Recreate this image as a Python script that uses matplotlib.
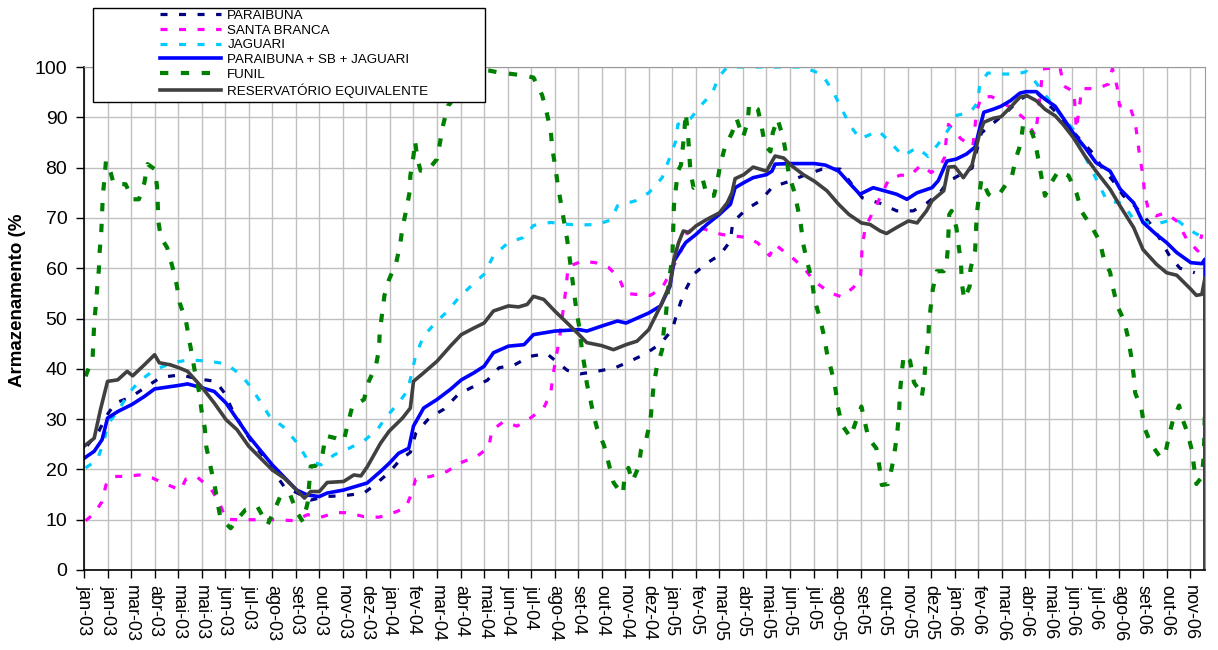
import numpy as np
import matplotlib
matplotlib.use("Agg")
import matplotlib.pyplot as plt
from matplotlib.patches import Rectangle

plt.rcParams['font.family'] = ['Liberation Sans', 'DejaVu Sans']

# ---------------- data (x = days since 01-jan-2003, y = % storage) ----------------
tick_labels = ["jan-03", "jan-03", "mar-03", "abr-03", "mai-03", "mai-03", "jun-03", "jul-03",
               "ago-03", "set-03", "out-03", "nov-03", "dez-03",
               "jan-04", "fev-04", "mar-04", "abr-04", "mai-04", "jun-04", "jul-04", "ago-04",
               "set-04", "out-04", "nov-04", "dez-04",
               "jan-05", "fev-05", "mar-05", "abr-05", "mai-05", "jun-05", "jul-05", "ago-05",
               "set-05", "out-05", "nov-05", "dez-05",
               "jan-06", "fev-06", "mar-06", "abr-06", "mai-06", "jun-06", "jul-06", "ago-06",
               "set-06", "out-06", "nov-06"]
tick_step_days = 30
x_end_days = 1429

paraibuna_d = [4, 19, 28, 40, 60, 79, 98, 123, 145, 168, 179, 190, 212, 227, 255, 272, 289, 308, 333, 357,
               372, 389, 403, 416, 423, 440, 459, 477, 493, 514, 529, 549, 569, 590, 616, 633, 654, 677, 696, 716, 735,
               750, 756, 764, 777, 794, 811, 824, 827, 844, 862, 878, 898, 917, 941, 964, 992, 1015, 1036, 1057, 1074, 1091, 1102,
               1108, 1132, 1144, 1176, 1191, 1212, 1225, 1238, 1265, 1287, 1297, 1312, 1325, 1340, 1359, 1372, 1384, 1397, 1416]
paraibuna_v = [24.7, 27.6, 30.5, 33.2, 34.4, 36.4, 38.3, 38.8, 38.0, 37.5, 35.2, 31.5, 25.9, 22.9, 16.6, 15.3, 13.9, 14.6, 14.8, 15.3,
               17.1, 19.4, 21.9, 23.4, 27.2, 30.2, 32.0, 34.9, 36.2, 37.7, 40.2, 40.8, 42.5, 43.0, 39.7, 39.0, 39.5, 40.2, 41.5, 43.0, 45.0,
               47.8, 51.1, 54.8, 58.8, 61.0, 62.7, 65.4, 69.1, 71.7, 73.4, 76.2, 77.2, 78.4, 79.7, 79.7, 74.0, 72.9, 71.4, 71.4, 72.9, 75.0, 77.4,
               77.8, 79.9, 86.9, 91.0, 93.3, 95.3, 93.3, 91.2, 86.4, 82.7, 80.2, 77.3, 74.4, 72.3, 68.9, 65.7, 62.4, 60.0, 59.1]

santa_branca_d = [2, 13, 23, 28, 38, 55, 70, 87, 104, 123, 130, 144, 161, 172, 181, 195, 210, 229, 246, 268, 285, 302, 321, 336, 357,
                  376, 393, 410, 416, 423, 442, 463, 478, 501, 516, 520, 535, 552, 569, 586, 595, 598, 602, 606, 609, 612, 615, 617, 635, 652, 669, 682, 690, 703, 722, 737, 745,
                  760, 769, 779, 798, 813, 829, 846, 859, 874, 881, 905, 919, 931, 951, 966, 981, 990, 992, 996, 1007, 1016, 1026, 1041, 1053, 1067, 1080, 1092, 1097, 1099, 1102,
                  1118, 1133, 1138, 1144, 1157, 1181, 1200, 1212, 1215, 1220, 1222, 1244, 1249, 1262, 1265, 1272, 1291, 1306, 1311, 1317, 1320, 1333, 1340, 1343, 1346, 1350, 1352, 1357, 1367, 1378, 1393, 1406, 1420, 1425]
santa_branca_v = [9.8, 11.2, 13.6, 16.9, 18.6, 18.6, 18.9, 18.3, 17.1, 15.9, 18.1, 18.5, 16.3, 13.6, 10.1, 10.0, 10.0, 10.0, 10.0, 9.8, 11.0, 10.5, 11.4, 11.4, 10.6,
                  10.5, 11.3, 12.3, 14.6, 18.1, 18.6, 19.6, 21.2, 22.6, 24.4, 27.8, 29.5, 28.6, 30.2, 32.2, 35.2, 38.8, 42.5, 45.8, 49.5, 53.1, 56.8, 60.3, 61.4, 61.1, 60.1, 58.1, 55.0, 54.8, 54.6, 56.1, 58.4,
                  63.0, 67.0, 68.4, 67.4, 66.7, 66.4, 66.1, 65.0, 62.5, 64.7, 61.8, 59.8, 57.4, 55.1, 54.3, 56.2, 58.5, 64.4, 68.1, 71.6, 74.4, 77.7, 78.5, 78.4, 80.5, 79.0, 80.5, 82.0, 85.5, 88.6,
                  85.7, 84.2, 91.3, 94.1, 94.1, 92.0, 89.6, 86.5, 89.1, 96.1, 99.6, 100.0, 96.2, 95.1, 87.6, 95.7, 95.7, 96.6, 99.7, 96.0, 92.3, 92.2, 89.1, 85.5, 82.0, 78.4, 74.7, 71.6, 70.4, 71.0, 69.4, 65.7, 63.4, 66.7]

jaguari_d = [2, 17, 26, 30, 45, 57, 72, 90, 113, 134, 159, 181, 200, 210, 223, 236, 256, 272, 285, 302, 319, 338, 357, 374,
             384, 397, 412, 418, 423, 433, 450, 464, 478, 493, 510, 522, 541, 560, 573, 595, 618, 635, 654, 672, 680, 703, 720, 737, 745,
             754, 757, 773, 786, 801, 809, 820, 841, 862, 917, 941, 955, 966, 977, 989, 1013, 1028, 1044, 1062, 1076, 1089, 1102,
             1113, 1130, 1139, 1142, 1152, 1170, 1189, 1202, 1214, 1242, 1261, 1272, 1293, 1304, 1324, 1338, 1355, 1372, 1392, 1408, 1423]
jaguari_v = [20.3, 21.9, 25.9, 28.9, 32.0, 35.2, 37.7, 39.8, 41.2, 41.8, 41.5, 41.0, 38.8, 36.9, 33.9, 30.7, 28.2, 25.2, 21.9, 20.9, 22.9, 24.2, 25.7, 27.9,
             30.2, 32.5, 35.5, 39.2, 42.8, 46.5, 49.5, 51.5, 54.2, 56.4, 58.8, 62.5, 65.1, 66.1, 68.5, 69.1, 68.7, 68.6, 68.7, 69.6, 72.4, 73.4, 75.0, 78.0, 81.3,
             85.1, 88.6, 89.7, 92.3, 94.8, 98.0, 100.0, 100.0, 100.0, 100.0, 98.5, 95.1, 91.6, 88.3, 85.7, 87.3, 85.0, 82.3, 84.0, 82.2, 84.7, 87.6,
             90.4, 91.0, 92.9, 96.6, 98.8, 98.6, 98.6, 99.1, 96.8, 91.0, 87.6, 83.5, 76.9, 73.4, 72.9, 69.7, 69.0, 69.0, 69.8, 67.7, 66.4]

total_d = [0, 13, 23, 30, 43, 61, 77, 90, 121, 132, 151, 166, 181, 210, 240, 271, 285, 300, 310, 331, 361,
           378, 389, 401, 414, 420, 433, 450, 467, 481, 497, 510, 522, 541, 561, 573, 600, 631, 641, 660, 680, 691, 720, 735, 747,
           752, 767, 780, 794, 810, 824, 830, 841, 853, 870, 877, 881, 901, 931, 945, 962, 977, 989, 1006, 1020, 1036, 1049, 1062, 1081,
           1089, 1100, 1112, 1125, 1136, 1141, 1147, 1159, 1169, 1181, 1193, 1201, 1214, 1225, 1238, 1248, 1261, 1276, 1290, 1308, 1321, 1338, 1350, 1367, 1380, 1393, 1411, 1425, 1429, 1429]
total_v = [22.2, 23.6, 25.9, 30.2, 31.5, 32.9, 34.5, 36.0, 36.7, 37.0, 36.2, 35.5, 33.2, 26.6, 20.9, 15.9, 14.9, 14.6, 15.3, 15.9, 17.3,
           19.6, 21.2, 23.2, 24.2, 28.6, 32.2, 33.9, 35.9, 37.8, 39.2, 40.5, 43.2, 44.5, 44.8, 46.8, 47.5, 47.8, 47.5, 48.5, 49.5, 49.1, 51.1, 52.5, 56.4,
           61.4, 65.1, 66.7, 68.7, 70.7, 72.7, 76.0, 77.0, 78.0, 78.6, 79.3, 80.7, 80.8, 80.8, 80.5, 79.3, 76.7, 74.7, 76.0, 75.4, 74.7, 73.7, 75.0, 76.0,
           77.4, 81.3, 81.7, 82.7, 84.1, 87.3, 91.0, 91.6, 92.2, 93.3, 94.8, 95.1, 95.1, 93.6, 92.2, 89.9, 86.9, 84.0, 81.0, 79.3, 75.7, 73.0, 69.1, 66.7, 65.1, 63.1, 61.1, 60.9, 61.8, 0.0]

funil_d = [2, 11, 13, 15, 17, 19, 20, 22, 23, 24, 26, 28, 34, 38, 53, 62, 70, 77, 81, 90,
           93, 94, 95, 98, 106, 113, 118, 122, 130, 134, 138, 142, 147, 150, 154, 156, 161, 166, 170, 174,
           187, 195, 206, 221, 234, 241, 251, 263, 271, 279, 285, 287, 289, 295, 304, 308, 321, 331, 336, 342,
           357, 363, 372, 376, 377, 380, 383, 389, 398, 403, 406, 411, 415, 416, 420, 422, 425, 429, 438, 450,
           454, 458, 464, 467, 480, 501, 516, 529, 546, 561, 573, 584, 590, 595, 597, 601, 604, 608, 612, 616,
           619, 622, 625, 628, 632, 635, 638, 641, 646, 649, 654, 663, 669, 675, 682, 687, 689, 694, 699, 707,
           710, 717, 722, 724, 726, 730, 737, 739, 742, 746, 750, 752, 757, 761, 765, 767, 770, 773, 777, 789,
           794, 803, 807, 811, 817, 826, 832, 840, 846, 848, 859, 864, 868, 875, 878, 884, 891, 895, 898, 905,
           910, 914, 917, 922, 928, 931, 938, 943, 947, 953, 958, 961, 966, 977, 985, 991, 996, 1000, 1010, 1014,
           1017, 1025, 1030, 1034, 1037, 1039, 1040, 1042, 1045, 1053, 1058, 1064, 1068, 1071, 1073, 1076, 1077, 1079, 1082, 1087,
           1096, 1099, 1101, 1102, 1103, 1106, 1112, 1115, 1118, 1119, 1122, 1129, 1130, 1136, 1137, 1138, 1141, 1144, 1153, 1158,
           1168, 1183, 1188, 1194, 1197, 1205, 1212, 1217, 1221, 1225, 1232, 1242, 1255, 1265, 1272, 1285, 1295, 1300, 1308, 1312,
           1317, 1326, 1331, 1335, 1338, 1340, 1348, 1352, 1360, 1372, 1378, 1383, 1388, 1396, 1401, 1406, 1412, 1415, 1418, 1425,
           1427, 1428, 1429]
funil_v = [38.5, 42.2, 49.1, 52.5, 56.4, 59.8, 63.4, 67.1, 70.7, 74.4, 77.7, 81.3, 79.0, 76.7, 76.7, 73.7, 73.7, 77.0, 80.7, 79.7,
           76.4, 72.7, 69.1, 66.1, 64.1, 60.1, 56.8, 53.1, 49.5, 45.8, 42.5, 38.8, 35.2, 31.5, 28.2, 24.4, 20.7, 17.3, 13.6, 10.3,
           8.3, 10.0, 12.0, 12.6, 9.0, 11.3, 14.9, 14.9, 11.6, 9.6, 13.3, 16.9, 20.6, 20.7, 22.9, 26.7, 26.2, 25.6, 28.9, 32.5,
           33.9, 37.5, 40.5, 43.8, 47.3, 51.0, 54.6, 57.8, 61.1, 64.7, 68.1, 71.7, 75.1, 78.4, 82.3, 85.3, 81.8, 79.4, 79.4, 81.7,
           85.1, 88.6, 92.3, 92.8, 98.5, 99.5, 99.3, 98.9, 98.6, 98.3, 97.9, 94.4, 90.8, 87.3, 83.7, 80.0, 76.5, 72.9, 69.2, 65.6,
           62.1, 58.4, 54.8, 51.3, 47.7, 43.3, 40.6, 37.1, 33.5, 31.2, 28.2, 24.7, 21.1, 17.4, 15.9, 15.1, 18.6, 20.3, 17.6, 20.5,
           23.8, 26.2, 29.7, 33.1, 36.5, 40.2, 43.8, 47.5, 51.1, 58.1, 61.8, 72.4, 79.3, 80.5, 86.5, 90.9, 86.5, 79.3, 76.0, 77.5,
           74.4, 74.4, 77.0, 80.5, 84.1, 86.9, 89.7, 86.0, 89.0, 92.7, 91.6, 88.0, 84.5, 83.2, 86.9, 89.7, 86.1, 82.7, 79.0, 75.4,
           71.8, 68.4, 64.7, 61.2, 57.6, 53.9, 50.1, 46.8, 43.2, 39.5, 35.9, 32.4, 28.9, 26.4, 30.0, 32.5, 29.0, 26.2, 24.2, 20.5,
           16.9, 17.1, 20.5, 24.2, 27.8, 31.2, 34.9, 38.6, 42.8, 41.6, 37.3, 35.9, 34.4, 37.8, 41.5, 45.0, 48.6, 51.8, 55.8, 59.4,
           59.4, 60.1, 63.6, 67.1, 70.7, 71.4, 68.1, 64.4, 60.9, 57.1, 53.8, 56.4, 59.8, 63.6, 67.1, 70.7, 74.4, 77.7, 74.7, 74.1,
           75.0, 78.4, 81.9, 84.7, 88.4, 88.4, 85.4, 81.3, 77.7, 74.4, 76.7, 79.3, 78.4, 75.0, 71.2, 68.1, 65.3, 61.8, 59.2, 55.9,
           52.6, 49.5, 46.1, 42.4, 38.8, 35.2, 32.0, 28.2, 25.1, 22.4, 22.9, 26.6, 29.7, 32.7, 29.7, 27.6, 24.0, 20.5, 17.1, 18.5,
           22.0, 25.6, 32.5]

equiv_d = [0, 13, 21, 30, 43, 55, 62, 77, 90, 96, 110, 121, 132, 151, 166, 181, 195, 210, 240, 255, 271, 281, 289, 300, 310, 331, 344, 353, 361,
           378, 389, 406, 416, 420, 433, 450, 467, 481, 497, 510, 522, 541, 554, 565, 573, 586, 600, 616, 631, 641, 660, 675, 691, 705, 720, 735, 747,
           752, 758, 764, 771, 780, 794, 810, 820, 826, 830, 841, 853, 870, 881, 892, 901, 917, 931, 947, 962, 975, 991, 1002, 1015, 1023, 1036, 1051, 1062, 1074, 1081, 1096,
           1102, 1110, 1121, 1132, 1141, 1147, 1159, 1169, 1181, 1193, 1202, 1214, 1225, 1238, 1248, 1261, 1276, 1290, 1308, 1321, 1338, 1350, 1367, 1380, 1393, 1411, 1418, 1425, 1429, 1429]
equiv_v = [24.6, 26.2, 31.9, 37.5, 37.8, 39.5, 38.6, 40.8, 42.8, 41.2, 40.8, 40.2, 39.5, 36.2, 33.2, 29.9, 27.9, 24.6, 19.9, 18.3, 15.9, 14.3, 15.6, 15.6, 17.4, 17.6, 18.9, 18.7, 20.5,
           25.2, 27.6, 30.2, 32.2, 37.5, 39.2, 41.5, 44.5, 46.8, 48.1, 49.1, 51.5, 52.5, 52.3, 52.8, 54.4, 53.8, 51.5, 49.1, 46.8, 45.2, 44.6, 43.8, 44.8, 45.5, 47.8, 52.5, 56.8,
           61.8, 65.1, 67.4, 67.1, 68.4, 69.7, 71.0, 73.0, 75.0, 77.8, 78.6, 80.1, 79.3, 82.3, 81.9, 80.5, 78.6, 77.3, 75.4, 72.7, 70.7, 69.0, 68.7, 67.4, 66.9, 68.1, 69.4, 69.0, 71.4, 73.4, 75.4,
           80.1, 80.2, 78.0, 80.5, 86.4, 89.0, 89.8, 90.1, 92.0, 94.0, 94.3, 93.3, 91.6, 90.3, 88.6, 86.0, 82.3, 79.3, 75.7, 72.3, 68.1, 63.7, 60.8, 59.1, 58.6, 55.8, 54.6, 54.8, 58.1, 0.0]

series_names = ["PARAIBUNA", "SANTA BRANCA", "JAGUARI", "PARAIBUNA + SB + JAGUARI", "FUNIL", "RESERVATÓRIO EQUIVALENTE"]
ylabel = "Armazenamento (%"

# ---------------- figure ----------------
W, H = 1218, 650
fig = plt.figure(figsize=(W / 100, H / 100), dpi=100)
ax = fig.add_axes([84 / W, 1 - 570 / H, (1205 - 84) / W, (570 - 67) / H])

ax.set_xlim(0, x_end_days)
ax.set_ylim(0, 100)
ticks = np.arange(len(tick_labels)) * tick_step_days
ax.set_xticks(ticks)
ax.set_xticklabels(tick_labels, rotation=-90, ha='center', va='top', fontsize=13)
ax.set_yticks(np.arange(0, 101, 10))
ax.tick_params(axis='y', labelsize=14, length=6, width=1, direction='out', pad=6)
ax.tick_params(axis='x', length=6, width=1, direction='out', pad=5)
ax.grid(True, color='#c0c0c0', linewidth=1.0)
ax.set_axisbelow(True)
for s in ('top', 'right'):
    ax.spines[s].set_color('#9a9a9a')
for s in ('left', 'bottom'):
    ax.spines[s].set_color('black')
    ax.spines[s].set_linewidth(1.2)

l1, = ax.plot(paraibuna_d, paraibuna_v, color='#000080', lw=2.3, dashes=(2.2, 3.6), label=series_names[0])
l2, = ax.plot(santa_branca_d, santa_branca_v, color='#ff00ff', lw=2.3, dashes=(2.2, 3.6), label=series_names[1])
l3, = ax.plot(jaguari_d, jaguari_v, color='#00ccff', lw=2.3, dashes=(2.2, 3.6), label=series_names[2])
l4, = ax.plot(total_d, total_v, color='#0000ff', lw=2.6, label=series_names[3])
l5, = ax.plot(funil_d, funil_v, color='#008000', lw=3.0, dashes=(2.0, 3.0), label=series_names[4])
l6, = ax.plot(equiv_d, equiv_v, color='#404040', lw=2.6, label=series_names[5])

fig.text(18 / W, 1 - 300 / H, ylabel, rotation=90, ha='center', va='center',
         fontsize=13.5, fontweight='bold')

# legend box
fig.add_artist(Rectangle((93 / W, 1 - 102 / H), (485 - 93) / W, (102 - 8) / H,
                         transform=fig.transFigure, facecolor='white', edgecolor='black',
                         linewidth=1.0, zorder=3))
fig.legend([l1, l2, l3, l4, l5, l6], series_names, loc='upper left',
           bbox_to_anchor=(160 / W, 1 - 9.5 / H), frameon=False, fontsize=9.6,
           handlelength=4.6, handletextpad=0.45, labelspacing=0.18,
           borderpad=0.0, borderaxespad=0.0)

fig.savefig("out.png", dpi=100)
